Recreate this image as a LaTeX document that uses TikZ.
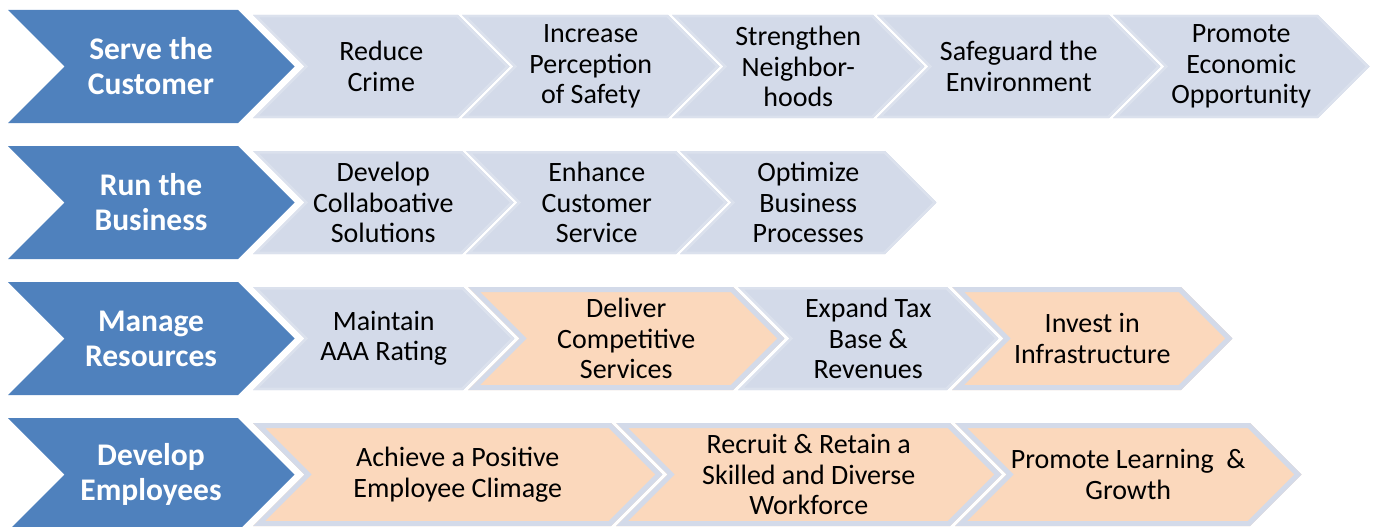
\documentclass[tikz,border=0pt]{standalone}
\usepackage{fontspec}
\setmainfont{Carlito}
\definecolor{headblue}{HTML}{4F81BD}
\definecolor{stepblue}{HTML}{D3DAE9}
\definecolor{stepedge}{HTML}{DBE1ED}
\definecolor{steporange}{HTML}{FBD8BC}
% chevron outline: left x, top-right x, middle y (half height 51.5, point depth 51.5)
\def\chevshape#1#2#3{(#1,#3-51.5) -- (#2,#3-51.5) -- (#2+51.5,#3) -- (#2,#3+51.5) -- (#1,#3+51.5) -- (#1+51.5,#3) -- cycle}
\newcommand\headchev[3]{%
  \fill[headblue] (8,#2-56.5) -- (238,#2-56.5) -- (294.5,#2) -- (238,#2+56.5) -- (8,#2+56.5) -- (64.5,#2) -- cycle;
  \node[headtext] (#1) at (151,#2) {#3};}
% light step: name, left x, top-right x, middle y, text
\newcommand\bluechev[5]{%
  \begin{scope}
    \clip \chevshape{#2}{#3}{#4};
    \fill[stepblue] \chevshape{#2}{#3}{#4};
    \draw[stepedge, line width=5pt] \chevshape{#2}{#3}{#4};
  \end{scope}
  \node[steptext] (#1) at ({(#2+#3+51.5)/2},#4) {#5};}
% highlighted step with a blue band round an orange fill
\newcommand\orangechev[5]{%
  \begin{scope}
    \clip \chevshape{#2}{#3}{#4};
    \fill[steporange] \chevshape{#2}{#3}{#4};
    \draw[stepblue, line width=10pt] \chevshape{#2}{#3}{#4};
  \end{scope}
  \node[steptext] (#1) at ({(#2+#3+51.5)/2},#4) {#5};}
\begin{document}
\begin{tikzpicture}[x=1pt,y=-1pt,
  headtext/.style={text=white, align=center, inner sep=0pt,
    font=\fontsize{31.5}{35}\selectfont\bfseries},
  steptext/.style={text=black, align=center, inner sep=0pt,
    font=\fontsize{28}{30.5}\selectfont}]
\useasboundingbox (0,0) rectangle (1377,527);

% Serve the Customer
\headchev{serve}{66.5}{Serve the\\Customer}
\bluechev{crime}{253}{458}{66.5}{Reduce\\Crime}
\bluechev{safety}{462}{668}{66.5}{Increase\\Perception\\of Safety}
\bluechev{neigh}{672}{873}{66.5}{Strengthen\\Neighbor-\\hoods}
\bluechev{environ}{877}{1109}{66.5}{Safeguard the\\Environment}
\bluechev{econ}{1113}{1318}{66.5}{Promote\\Economic\\Opportunity}

% Run the Business
\headchev{run}{202.5}{Run the\\Business}
\bluechev{collab}{253}{462}{202.5}{Develop\\Collaboative\\Solutions}
\bluechev{service}{466}{676}{202.5}{Enhance\\Customer\\Service}
\bluechev{process}{680}{885}{202.5}{Optimize\\Business\\Processes}

% Manage Resources
\headchev{manage}{338.5}{Manage\\Resources}
\bluechev{rating}{253}{463}{338.5}{Maintain\\AAA Rating}
\orangechev{deliver}{468}{733}{338.5}{Deliver\\Competitive\\Services}
\bluechev{tax}{738}{947}{338.5}{Expand Tax\\Base \&\\Revenues}
\orangechev{infra}{952}{1181}{338.5}{Invest in\\Infrastructure}

% Develop Employees
\headchev{develop}{474.5}{Develop\\Employees}
\orangechev{climate}{253}{611}{474.5}{Achieve a Positive\\Employee Climage}
\orangechev{recruit}{616}{950}{474.5}{Recruit \& Retain a\\Skilled and Diverse\\Workforce}
\orangechev{learn}{955}{1250}{474.5}{Promote Learning~ \&\\Growth}
\end{tikzpicture}
\end{document}
